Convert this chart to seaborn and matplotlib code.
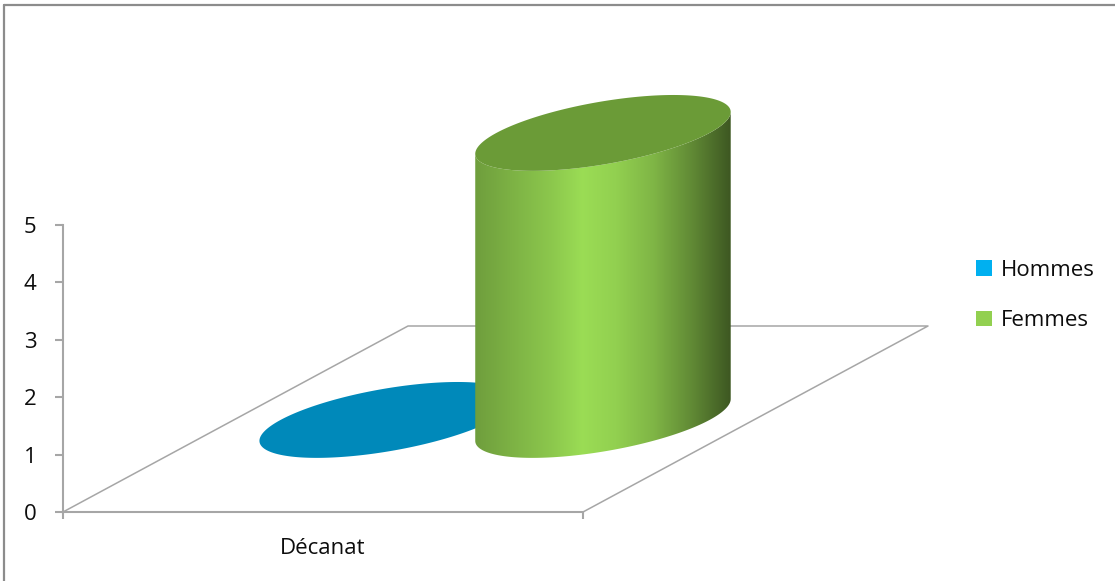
import numpy as np
import matplotlib
matplotlib.use('Agg')
import matplotlib.pyplot as plt
import seaborn as sns
from matplotlib.patches import Polygon, Patch

# ---- data ----
categories = ['Décanat']
series_names = ['Hommes', 'Femmes']
hommes = [0]
femmes = [5]
y_ticks = [0, 1, 2, 3, 4, 5]
legend_colors = ['#00b0f0', '#92d050']
top_colors = ['#0089ba', '#6b9b37']

sns.set_theme(style='white')
plt.rcParams['font.family'] = ['Open Sans', 'DejaVu Sans']

W, H = 1115, 581
fig = plt.figure(figsize=(W / 100, H / 100), dpi=100)
fig.patch.set_facecolor('white')
TXT = '#0d0d0d'
AX = '#a6a6a6'
FS = 16

# front plane axes (value scale)
ax = fig.add_axes([63 / W, (H - 512) / H, (583 - 63) / W, (512 - 225) / H])
ax.set_xlim(-0.5, len(categories) - 0.5)
ax.set_ylim(0, 5)
ax.patch.set_alpha(0)
for s in ['top', 'right']:
    ax.spines[s].set_visible(False)
for s in ['left', 'bottom']:
    ax.spines[s].set_color(AX)
    ax.spines[s].set_linewidth(1.5)
ax.set_yticks(y_ticks)
ax.set_yticklabels([str(t) for t in y_ticks])
ax.tick_params(axis='y', direction='out', length=6, width=1.5, color=AX, pad=13,
               labelsize=FS, labelcolor=TXT, left=True)
ax.set_xticks(np.arange(len(categories) + 1) - 0.5)
ax.set_xticklabels([])
ax.tick_params(axis='x', which='major', direction='out', length=5, width=1.5, color=AX, bottom=True)
ax.set_xticks(np.arange(len(categories)), minor=True)
ax.set_xticklabels(categories, minor=True)
ax.tick_params(axis='x', which='minor', length=0, pad=19, labelsize=FS, labelcolor=TXT, bottom=True)
ax.grid(False)

# overlay in pixel coordinates for the 3D look
ov = fig.add_axes([0, 0, 1, 1], zorder=3)
ov.set_axis_off()

D = np.array([345.0, 186.0])  # depth direction in pixels


def P(x, v):
    return ax.transData.transform((x, v))


# floor
fl = P(-0.5, 0)
fr = P(len(categories) - 0.5, 0)
bl, br = fl + D, fr + D
pts = np.array([fl, bl, br, fr])
ov.plot(pts[:, 0], pts[:, 1], color=AX, lw=1.1, zorder=1, solid_capstyle='butt')

values = [hommes, femmes]
offsets = [-0.205, 0.21]
rx, rd, dc = 0.205, 0.204, 0.495
stops = [0, 0.3, 0.42, 0.55, 0.7, 0.85, 1.0]
factors = [0.76, 0.96, 1.06, 1.0, 0.87, 0.66, 0.42]

for ci, cat in enumerate(categories):
    for si in range(len(series_names)):
        v = values[si][ci]
        xc = ci + offsets[si]
        c0 = P(xc, 0) + dc * D
        c1 = P(xc, v) + dc * D
        u = P(xc + rx, 0) - P(xc, 0)
        w = rd * D
        t0 = np.arctan2(w[0], u[0])

        def ell(c, t):
            return c + np.outer(np.cos(t), u) + np.outer(np.sin(t), w)

        if v > 0:
            tf = np.linspace(t0 + np.pi, t0 + 2 * np.pi, 150)
            body = np.vstack([ell(c0, tf), ell(c1, tf[::-1])])
            poly = Polygon(body, closed=True, facecolor='none', edgecolor='none')
            ov.add_patch(poly)
            x0, x1 = body[:, 0].min(), body[:, 0].max()
            y0, y1 = body[:, 1].min(), body[:, 1].max()
            base = np.array(matplotlib.colors.to_rgb(legend_colors[si]))
            xs = np.linspace(0, 1, 256)
            f = np.interp(xs, stops, factors)
            grad = np.clip(base[None, :] * f[:, None], 0, 1)[None, :, :]
            im = ov.imshow(grad, extent=(x0, x1, y0, y1), aspect='auto',
                           interpolation='bilinear', origin='lower', zorder=2 + si)
            im.set_clip_path(poly)
        ta = np.linspace(0, 2 * np.pi, 300)
        ov.add_patch(Polygon(ell(c1, ta), closed=True, facecolor=top_colors[si],
                             edgecolor='none', zorder=2.5 + si))

# outer frame (left and top)
ov.plot([4, 4], [0, H - 5], color='#8c8c8c', lw=1.6, zorder=5)
ov.plot([4, W], [H - 5, H - 5], color='#8c8c8c', lw=1.6, zorder=5)
ov.set_xlim(0, W)
ov.set_ylim(0, H)

handles = [Patch(facecolor=c, edgecolor='none') for c in legend_colors]
fig.legend(handles=handles, labels=series_names, loc='upper left',
           bbox_to_anchor=(976 / W, 1 - 260 / H), bbox_transform=fig.transFigure,
           frameon=False, fontsize=FS, handlelength=0.7, handleheight=0.7,
           handletextpad=0.4, labelspacing=1.32, borderpad=0, borderaxespad=0,
           labelcolor=TXT)

fig.savefig('out.png', dpi=100)
